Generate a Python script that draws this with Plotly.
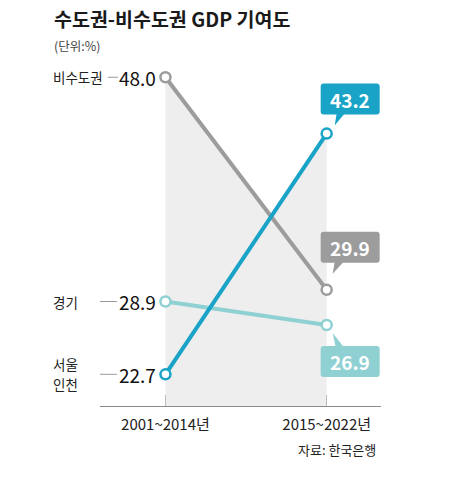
import plotly.graph_objects as go

periods = ["2001~2014년", "2015~2022년"]
nonmetro = [48.0, 29.9]   # 비수도권
seoul_incheon = [22.7, 43.2]  # 서울·인천
gyeonggi = [28.9, 26.9]   # 경기

C_GRAY = "#9c9c9c"
C_BLUE = "#19a3c7"
C_TEAL = "#8fd0d3"
FONT = "Noto Sans CJK KR"

xs = [0, 1]

# crossing of upper envelope
t = (nonmetro[0] - seoul_incheon[0]) / ((seoul_incheon[1] - seoul_incheon[0]) - (nonmetro[1] - nonmetro[0]))
cross_y = nonmetro[0] + t * (nonmetro[1] - nonmetro[0])
fill_x = [0, 0, t, 1, 1]
fill_y = [20, nonmetro[0], cross_y, seoul_incheon[1], 20]

fig = go.Figure()
fig.add_trace(go.Scatter(x=fill_x, y=fill_y, fill="toself", fillcolor="#eeeeee",
                         line=dict(width=0), mode="lines", hoverinfo="skip", showlegend=False))

for vals, col in [(gyeonggi, C_TEAL), (nonmetro, C_GRAY), (seoul_incheon, C_BLUE)]:
    fig.add_trace(go.Scatter(x=xs, y=vals, mode="lines+markers",
                             line=dict(color=col, width=4),
                             marker=dict(symbol="circle", size=10, color="white",
                                         line=dict(color=col, width=2.5)),
                             showlegend=False, cliponaxis=False))

shapes = []
annotations = []

def rrect(x0, y0, x1, y1, r=3):
    return (f"M {x0+r},{y0} L {x1-r},{y0} Q {x1},{y0} {x1},{y0+r} L {x1},{y1-r} "
            f"Q {x1},{y1} {x1-r},{y1} L {x0+r},{y1} Q {x0},{y1} {x0},{y1-r} "
            f"L {x0},{y0+r} Q {x0},{y0} {x0+r},{y0} Z")

# callouts (pixel offsets relative to the data point)
callouts = [
    (seoul_incheon[1], C_BLUE, 19, 50, "M 8,8 L 10,20 L 18,20 Z"),
    (nonmetro[1], C_GRAY, 27, 58, "M 6,16 L 8,28 L 17,28 Z"),
    (gyeonggi[1], C_TEAL, -52, -21, "M 6,-8 L 9,-22 L 17,-22 Z"),
]
for val, col, y0, y1, tail in callouts:
    shapes.append(dict(type="path", xref="x", yref="y", xsizemode="pixel", ysizemode="pixel",
                       xanchor=1, yanchor=val, path=rrect(-6, y0, 53, y1),
                       fillcolor=col, line=dict(width=0), layer="above"))
    shapes.append(dict(type="path", xref="x", yref="y", xsizemode="pixel", ysizemode="pixel",
                       xanchor=1, yanchor=val, path=tail,
                       fillcolor=col, line=dict(width=0), layer="above"))
    annotations.append(dict(x=1, y=val, xref="x", yref="y", text=f"{val:.1f}", showarrow=False,
                            xshift=23.5, yshift=(y0 + y1) / 2, xanchor="center", yanchor="middle",
                            font=dict(family=FONT, size=19, color="white", weight=700)))

# left labels: (value, name lines, line x0, line x1)
left = [
    (nonmetro[0], ["비수도권"], -57.5, -47.5),
    (gyeonggi[0], ["경기"], -75.5, -48.5),
    (seoul_incheon[0], ["서울", "인천"], -75.5, -48.5),
]
for val, names, lx0, lx1 in left:
    n = len(names)
    for i, name in enumerate(names):
        annotations.append(dict(x=0, y=val, xref="x", yref="y", text=name, showarrow=False,
                                xshift=-114, yshift=((n - 1) / 2 - i) * 20,
                                xanchor="left", yanchor="middle", align="left",
                                font=dict(family=FONT, size=13.5, color="#222")))
    annotations.append(dict(x=0, y=val, xref="x", yref="y", text=f"{val:.1f}", showarrow=False,
                            xshift=-7, xanchor="right", yanchor="middle",
                            font=dict(family=FONT, size=19, color="#111")))
    shapes.append(dict(type="line", xref="x", yref="y", xsizemode="pixel", xanchor=0,
                       x0=lx0, x1=lx1, y0=val, y1=val, line=dict(color="#9a9a9a", width=1)))

# title and notes
annotations.append(dict(x=-0.171, y=1.121, xref="paper", yref="paper", text="수도권-비수도권 GDP 기여도",
                        showarrow=False, xanchor="left", yanchor="middle",
                        font=dict(family=FONT, size=19.5, color="#1a1a1a", weight=700)))
annotations.append(dict(x=-0.171, y=1.043, xref="paper", yref="paper", text="(단위:%)",
                        showarrow=False, xanchor="left", yanchor="middle",
                        font=dict(family=FONT, size=12.5, color="#444")))
annotations.append(dict(x=0.99, y=-0.127, xref="paper", yref="paper", text="자료: 한국은행",
                        showarrow=False, xanchor="right", yanchor="middle",
                        font=dict(family=FONT, size=13, color="#222")))

fig.update_layout(
    width=455, height=500,
    margin=dict(l=100, r=74, t=60, b=94),
    paper_bgcolor="white", plot_bgcolor="white",
    shapes=shapes, annotations=annotations,
    xaxis=dict(range=[-0.406, 1.337], tickvals=xs, ticktext=periods, showgrid=False, zeroline=False,
               showline=True, linecolor="#8a8a8a", linewidth=1, ticks="inside", ticklen=11,
               tickcolor="#bdbdbd", tickwidth=1, ticklabelstandoff=5,
               tickfont=dict(family=FONT, size=15, color="#222"), fixedrange=True),
    yaxis=dict(range=[20, 49.47], showgrid=False, zeroline=False, showticklabels=False,
               showline=False, fixedrange=True),
)

fig.write_html("out.html")
